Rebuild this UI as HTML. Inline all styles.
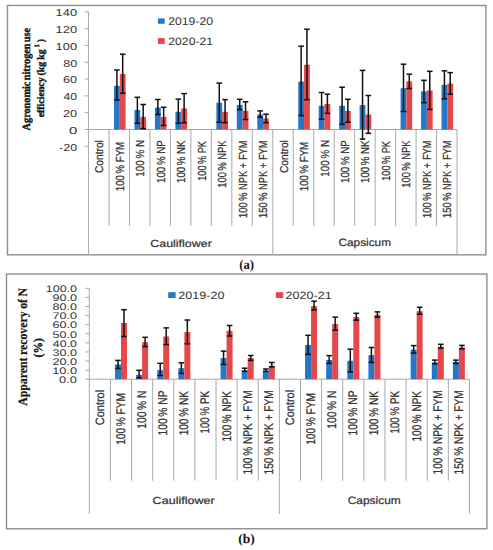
<!DOCTYPE html>
<html><head><meta charset="utf-8"><style>
html,body{margin:0;padding:0;background:#fff;width:493px;height:550px;overflow:hidden}
svg{display:block} text{text-rendering:geometricPrecision}
</style></head><body>
<svg width="493" height="550" viewBox="0 0 493 550">
<rect x="7.5" y="5.45" width="478.4" height="249.4" fill="none" stroke="#8e8e8e" stroke-width="1.4"/>
<line x1="84.55" y1="11.85" x2="88.55" y2="11.85" stroke="#a9a9a9" stroke-width="1"/>
<text transform="translate(55.62,16.10) scale(1.2876,1.0028)" font-family='"Liberation Sans", sans-serif' font-size="10" font-weight="normal" fill="#333333">140</text>
<line x1="84.55" y1="28.65" x2="88.55" y2="28.65" stroke="#a9a9a9" stroke-width="1"/>
<text transform="translate(55.62,32.90) scale(1.2876,1.0028)" font-family='"Liberation Sans", sans-serif' font-size="10" font-weight="normal" fill="#333333">120</text>
<line x1="84.55" y1="45.45" x2="88.55" y2="45.45" stroke="#a9a9a9" stroke-width="1"/>
<text transform="translate(55.62,49.70) scale(1.2876,1.0028)" font-family='"Liberation Sans", sans-serif' font-size="10" font-weight="normal" fill="#333333">100</text>
<line x1="84.55" y1="62.25" x2="88.55" y2="62.25" stroke="#a9a9a9" stroke-width="1"/>
<text transform="translate(63.16,66.50) scale(1.2527,1.0028)" font-family='"Liberation Sans", sans-serif' font-size="10" font-weight="normal" fill="#333333">80</text>
<line x1="84.55" y1="79.05" x2="88.55" y2="79.05" stroke="#a9a9a9" stroke-width="1"/>
<text transform="translate(63.06,83.30) scale(1.2617,1.0028)" font-family='"Liberation Sans", sans-serif' font-size="10" font-weight="normal" fill="#333333">60</text>
<line x1="84.55" y1="95.85" x2="88.55" y2="95.85" stroke="#a9a9a9" stroke-width="1"/>
<text transform="translate(63.42,100.10) scale(1.2282,1.0028)" font-family='"Liberation Sans", sans-serif' font-size="10" font-weight="normal" fill="#333333">40</text>
<line x1="84.55" y1="112.65" x2="88.55" y2="112.65" stroke="#a9a9a9" stroke-width="1"/>
<text transform="translate(63.07,116.90) scale(1.2611,1.0028)" font-family='"Liberation Sans", sans-serif' font-size="10" font-weight="normal" fill="#333333">20</text>
<line x1="84.55" y1="129.45" x2="88.55" y2="129.45" stroke="#a9a9a9" stroke-width="1"/>
<text transform="translate(68.92,133.70) scale(1.4853,1.0028)" font-family='"Liberation Sans", sans-serif' font-size="10" font-weight="normal" fill="#333333">0</text>
<line x1="84.55" y1="146.25" x2="88.55" y2="146.25" stroke="#a9a9a9" stroke-width="1"/>
<text transform="translate(59.05,150.50) scale(1.2483,1.0028)" font-family='"Liberation Sans", sans-serif' font-size="10" font-weight="normal" fill="#333333">-20</text>
<line x1="88.55" y1="11.85" x2="88.55" y2="254.80" stroke="#a9a9a9" stroke-width="1"/>
<line x1="88.55" y1="129.50" x2="457.01" y2="129.50" stroke="#a9a9a9" stroke-width="1"/>
<line x1="109.02" y1="129.50" x2="109.02" y2="225.80" stroke="#a9a9a9" stroke-width="1"/>
<line x1="129.49" y1="129.50" x2="129.49" y2="225.80" stroke="#a9a9a9" stroke-width="1"/>
<line x1="149.96" y1="129.50" x2="149.96" y2="225.80" stroke="#a9a9a9" stroke-width="1"/>
<line x1="170.43" y1="129.50" x2="170.43" y2="225.80" stroke="#a9a9a9" stroke-width="1"/>
<line x1="190.90" y1="129.50" x2="190.90" y2="225.80" stroke="#a9a9a9" stroke-width="1"/>
<line x1="211.37" y1="129.50" x2="211.37" y2="225.80" stroke="#a9a9a9" stroke-width="1"/>
<line x1="231.84" y1="129.50" x2="231.84" y2="225.80" stroke="#a9a9a9" stroke-width="1"/>
<line x1="252.31" y1="129.50" x2="252.31" y2="225.80" stroke="#a9a9a9" stroke-width="1"/>
<line x1="272.78" y1="129.50" x2="272.78" y2="254.80" stroke="#a9a9a9" stroke-width="1"/>
<line x1="293.25" y1="129.50" x2="293.25" y2="225.80" stroke="#a9a9a9" stroke-width="1"/>
<line x1="313.72" y1="129.50" x2="313.72" y2="225.80" stroke="#a9a9a9" stroke-width="1"/>
<line x1="334.19" y1="129.50" x2="334.19" y2="225.80" stroke="#a9a9a9" stroke-width="1"/>
<line x1="354.66" y1="129.50" x2="354.66" y2="225.80" stroke="#a9a9a9" stroke-width="1"/>
<line x1="375.13" y1="129.50" x2="375.13" y2="225.80" stroke="#a9a9a9" stroke-width="1"/>
<line x1="395.60" y1="129.50" x2="395.60" y2="225.80" stroke="#a9a9a9" stroke-width="1"/>
<line x1="416.07" y1="129.50" x2="416.07" y2="225.80" stroke="#a9a9a9" stroke-width="1"/>
<line x1="436.54" y1="129.50" x2="436.54" y2="225.80" stroke="#a9a9a9" stroke-width="1"/>
<line x1="457.01" y1="129.50" x2="457.01" y2="254.80" stroke="#a9a9a9" stroke-width="1"/>
<text transform="translate(103.37,173.12) rotate(-90) scale(1.0238,1.1302)" font-family='"Liberation Sans", sans-serif' font-size="10" font-weight="normal" fill="#333333" stroke="#333333" stroke-width="0.22">Control</text>
<text transform="translate(123.84,191.13) rotate(-90) scale(0.9627,1.1723)" font-family='"Liberation Sans", sans-serif' font-size="10" font-weight="normal" fill="#333333" stroke="#333333" stroke-width="0.22">100 % FYM</text>
<text transform="translate(144.31,176.65) rotate(-90) scale(0.9842,1.1723)" font-family='"Liberation Sans", sans-serif' font-size="10" font-weight="normal" fill="#333333" stroke="#333333" stroke-width="0.22">100 % N</text>
<text transform="translate(164.78,182.94) rotate(-90) scale(0.9713,1.1723)" font-family='"Liberation Sans", sans-serif' font-size="10" font-weight="normal" fill="#333333" stroke="#333333" stroke-width="0.22">100 % NP</text>
<text transform="translate(185.25,182.93) rotate(-90) scale(0.9620,1.1723)" font-family='"Liberation Sans", sans-serif' font-size="10" font-weight="normal" fill="#333333" stroke="#333333" stroke-width="0.22">100 % NK</text>
<text transform="translate(205.72,180.80) rotate(-90) scale(0.9156,1.1723)" font-family='"Liberation Sans", sans-serif' font-size="10" font-weight="normal" fill="#333333" stroke="#333333" stroke-width="0.22">100 % PK</text>
<text transform="translate(226.19,187.71) rotate(-90) scale(0.9315,1.1723)" font-family='"Liberation Sans", sans-serif' font-size="10" font-weight="normal" fill="#333333" stroke="#333333" stroke-width="0.22">100 % NPK</text>
<text transform="translate(246.66,217.91) rotate(-90) scale(0.9325,1.1723)" font-family='"Liberation Sans", sans-serif' font-size="10" font-weight="normal" fill="#333333" stroke="#333333" stroke-width="0.22">100 % NPK + FYM</text>
<text transform="translate(267.13,217.91) rotate(-90) scale(0.9325,1.1723)" font-family='"Liberation Sans", sans-serif' font-size="10" font-weight="normal" fill="#333333" stroke="#333333" stroke-width="0.22">150 % NPK + FYM</text>
<text transform="translate(287.60,173.12) rotate(-90) scale(1.0238,1.1302)" font-family='"Liberation Sans", sans-serif' font-size="10" font-weight="normal" fill="#333333" stroke="#333333" stroke-width="0.22">Control</text>
<text transform="translate(308.07,191.13) rotate(-90) scale(0.9627,1.1723)" font-family='"Liberation Sans", sans-serif' font-size="10" font-weight="normal" fill="#333333" stroke="#333333" stroke-width="0.22">100 % FYM</text>
<text transform="translate(328.54,176.65) rotate(-90) scale(0.9842,1.1723)" font-family='"Liberation Sans", sans-serif' font-size="10" font-weight="normal" fill="#333333" stroke="#333333" stroke-width="0.22">100 % N</text>
<text transform="translate(349.01,182.94) rotate(-90) scale(0.9713,1.1723)" font-family='"Liberation Sans", sans-serif' font-size="10" font-weight="normal" fill="#333333" stroke="#333333" stroke-width="0.22">100 % NP</text>
<text transform="translate(369.48,182.93) rotate(-90) scale(0.9620,1.1723)" font-family='"Liberation Sans", sans-serif' font-size="10" font-weight="normal" fill="#333333" stroke="#333333" stroke-width="0.22">100 % NK</text>
<text transform="translate(389.95,180.80) rotate(-90) scale(0.9156,1.1723)" font-family='"Liberation Sans", sans-serif' font-size="10" font-weight="normal" fill="#333333" stroke="#333333" stroke-width="0.22">100 % PK</text>
<text transform="translate(410.42,187.71) rotate(-90) scale(0.9315,1.1723)" font-family='"Liberation Sans", sans-serif' font-size="10" font-weight="normal" fill="#333333" stroke="#333333" stroke-width="0.22">100 % NPK</text>
<text transform="translate(430.89,217.91) rotate(-90) scale(0.9325,1.1723)" font-family='"Liberation Sans", sans-serif' font-size="10" font-weight="normal" fill="#333333" stroke="#333333" stroke-width="0.22">100 % NPK + FYM</text>
<text transform="translate(451.36,217.91) rotate(-90) scale(0.9325,1.1723)" font-family='"Liberation Sans", sans-serif' font-size="10" font-weight="normal" fill="#333333" stroke="#333333" stroke-width="0.22">150 % NPK + FYM</text>
<text transform="translate(150.27,246.50) scale(1.2441,1.0349)" font-family='"Liberation Sans", sans-serif' font-size="10" font-weight="normal" fill="#333333" stroke="#333333" stroke-width="0.22">Cauliflower</text>
<text transform="translate(338.50,246.40) scale(1.1804,1.0621)" font-family='"Liberation Sans", sans-serif' font-size="10" font-weight="normal" fill="#333333" stroke="#333333" stroke-width="0.22">Capsicum</text>
<rect x="114.00" y="85.80" width="5.80" height="43.70" fill="#2677c8"/>
<rect x="119.80" y="74.00" width="5.80" height="55.50" fill="#e5484a"/>
<rect x="134.47" y="110.00" width="5.80" height="19.50" fill="#2677c8"/>
<rect x="140.28" y="116.90" width="5.80" height="12.60" fill="#e5484a"/>
<rect x="154.94" y="107.60" width="5.80" height="21.90" fill="#2677c8"/>
<rect x="160.75" y="116.90" width="5.80" height="12.60" fill="#e5484a"/>
<rect x="175.41" y="111.80" width="5.80" height="17.70" fill="#2677c8"/>
<rect x="181.22" y="108.50" width="5.80" height="21.00" fill="#e5484a"/>
<rect x="216.36" y="102.70" width="5.80" height="26.80" fill="#2677c8"/>
<rect x="222.16" y="111.80" width="5.80" height="17.70" fill="#e5484a"/>
<rect x="236.82" y="104.90" width="5.80" height="24.60" fill="#2677c8"/>
<rect x="242.62" y="110.90" width="5.80" height="18.60" fill="#e5484a"/>
<rect x="257.30" y="114.50" width="5.80" height="15.00" fill="#2677c8"/>
<rect x="263.10" y="118.50" width="5.80" height="11.00" fill="#e5484a"/>
<rect x="298.24" y="81.60" width="5.80" height="47.90" fill="#2677c8"/>
<rect x="304.04" y="64.80" width="5.80" height="64.70" fill="#e5484a"/>
<rect x="318.70" y="105.80" width="5.80" height="23.70" fill="#2677c8"/>
<rect x="324.50" y="104.00" width="5.80" height="25.50" fill="#e5484a"/>
<rect x="339.18" y="105.80" width="5.80" height="23.70" fill="#2677c8"/>
<rect x="344.98" y="111.00" width="5.80" height="18.50" fill="#e5484a"/>
<rect x="359.64" y="105.10" width="5.80" height="24.40" fill="#2677c8"/>
<rect x="365.44" y="114.50" width="5.80" height="15.00" fill="#e5484a"/>
<rect x="400.58" y="88.20" width="5.80" height="41.30" fill="#2677c8"/>
<rect x="406.38" y="81.30" width="5.80" height="48.20" fill="#e5484a"/>
<rect x="421.06" y="91.40" width="5.80" height="38.10" fill="#2677c8"/>
<rect x="426.86" y="90.40" width="5.80" height="39.10" fill="#e5484a"/>
<rect x="441.52" y="84.90" width="5.80" height="44.60" fill="#2677c8"/>
<rect x="447.32" y="83.60" width="5.80" height="45.90" fill="#e5484a"/>
<line x1="116.90" y1="70.00" x2="116.90" y2="100.00" stroke="#111" stroke-width="1.5"/>
<line x1="114.10" y1="70.00" x2="119.70" y2="70.00" stroke="#111" stroke-width="1.5"/>
<line x1="114.10" y1="100.00" x2="119.70" y2="100.00" stroke="#111" stroke-width="1.5"/>
<line x1="122.70" y1="54.20" x2="122.70" y2="93.30" stroke="#111" stroke-width="1.5"/>
<line x1="119.91" y1="54.20" x2="125.50" y2="54.20" stroke="#111" stroke-width="1.5"/>
<line x1="119.91" y1="93.30" x2="125.50" y2="93.30" stroke="#111" stroke-width="1.5"/>
<line x1="137.38" y1="97.30" x2="137.38" y2="123.30" stroke="#111" stroke-width="1.5"/>
<line x1="134.57" y1="97.30" x2="140.18" y2="97.30" stroke="#111" stroke-width="1.5"/>
<line x1="134.57" y1="123.30" x2="140.18" y2="123.30" stroke="#111" stroke-width="1.5"/>
<line x1="143.18" y1="104.50" x2="143.18" y2="128.70" stroke="#111" stroke-width="1.5"/>
<line x1="140.38" y1="104.50" x2="145.98" y2="104.50" stroke="#111" stroke-width="1.5"/>
<line x1="140.38" y1="128.70" x2="145.98" y2="128.70" stroke="#111" stroke-width="1.5"/>
<line x1="157.84" y1="99.50" x2="157.84" y2="114.50" stroke="#111" stroke-width="1.5"/>
<line x1="155.04" y1="99.50" x2="160.65" y2="99.50" stroke="#111" stroke-width="1.5"/>
<line x1="155.04" y1="114.50" x2="160.65" y2="114.50" stroke="#111" stroke-width="1.5"/>
<line x1="163.65" y1="107.30" x2="163.65" y2="125.50" stroke="#111" stroke-width="1.5"/>
<line x1="160.84" y1="107.30" x2="166.45" y2="107.30" stroke="#111" stroke-width="1.5"/>
<line x1="160.84" y1="125.50" x2="166.45" y2="125.50" stroke="#111" stroke-width="1.5"/>
<line x1="178.31" y1="99.10" x2="178.31" y2="123.30" stroke="#111" stroke-width="1.5"/>
<line x1="175.51" y1="99.10" x2="181.12" y2="99.10" stroke="#111" stroke-width="1.5"/>
<line x1="175.51" y1="123.30" x2="181.12" y2="123.30" stroke="#111" stroke-width="1.5"/>
<line x1="184.12" y1="93.60" x2="184.12" y2="122.70" stroke="#111" stroke-width="1.5"/>
<line x1="181.31" y1="93.60" x2="186.92" y2="93.60" stroke="#111" stroke-width="1.5"/>
<line x1="181.31" y1="122.70" x2="186.92" y2="122.70" stroke="#111" stroke-width="1.5"/>
<line x1="219.26" y1="83.10" x2="219.26" y2="122.20" stroke="#111" stroke-width="1.5"/>
<line x1="216.46" y1="83.10" x2="222.06" y2="83.10" stroke="#111" stroke-width="1.5"/>
<line x1="216.46" y1="122.20" x2="222.06" y2="122.20" stroke="#111" stroke-width="1.5"/>
<line x1="225.06" y1="99.60" x2="225.06" y2="122.70" stroke="#111" stroke-width="1.5"/>
<line x1="222.26" y1="99.60" x2="227.86" y2="99.60" stroke="#111" stroke-width="1.5"/>
<line x1="222.26" y1="122.70" x2="227.86" y2="122.70" stroke="#111" stroke-width="1.5"/>
<line x1="239.72" y1="99.30" x2="239.72" y2="109.60" stroke="#111" stroke-width="1.5"/>
<line x1="236.92" y1="99.30" x2="242.53" y2="99.30" stroke="#111" stroke-width="1.5"/>
<line x1="236.92" y1="109.60" x2="242.53" y2="109.60" stroke="#111" stroke-width="1.5"/>
<line x1="245.53" y1="101.80" x2="245.53" y2="119.50" stroke="#111" stroke-width="1.5"/>
<line x1="242.72" y1="101.80" x2="248.33" y2="101.80" stroke="#111" stroke-width="1.5"/>
<line x1="242.72" y1="119.50" x2="248.33" y2="119.50" stroke="#111" stroke-width="1.5"/>
<line x1="260.20" y1="110.90" x2="260.20" y2="117.30" stroke="#111" stroke-width="1.5"/>
<line x1="257.40" y1="110.90" x2="263.00" y2="110.90" stroke="#111" stroke-width="1.5"/>
<line x1="257.40" y1="117.30" x2="263.00" y2="117.30" stroke="#111" stroke-width="1.5"/>
<line x1="266.00" y1="114.20" x2="266.00" y2="122.70" stroke="#111" stroke-width="1.5"/>
<line x1="263.19" y1="114.20" x2="268.80" y2="114.20" stroke="#111" stroke-width="1.5"/>
<line x1="263.19" y1="122.70" x2="268.80" y2="122.70" stroke="#111" stroke-width="1.5"/>
<line x1="301.14" y1="46.20" x2="301.14" y2="115.60" stroke="#111" stroke-width="1.5"/>
<line x1="298.34" y1="46.20" x2="303.94" y2="46.20" stroke="#111" stroke-width="1.5"/>
<line x1="298.34" y1="115.60" x2="303.94" y2="115.60" stroke="#111" stroke-width="1.5"/>
<line x1="306.94" y1="29.20" x2="306.94" y2="99.70" stroke="#111" stroke-width="1.5"/>
<line x1="304.13" y1="29.20" x2="309.74" y2="29.20" stroke="#111" stroke-width="1.5"/>
<line x1="304.13" y1="99.70" x2="309.74" y2="99.70" stroke="#111" stroke-width="1.5"/>
<line x1="321.61" y1="92.50" x2="321.61" y2="119.30" stroke="#111" stroke-width="1.5"/>
<line x1="318.81" y1="92.50" x2="324.41" y2="92.50" stroke="#111" stroke-width="1.5"/>
<line x1="318.81" y1="119.30" x2="324.41" y2="119.30" stroke="#111" stroke-width="1.5"/>
<line x1="327.40" y1="94.20" x2="327.40" y2="113.40" stroke="#111" stroke-width="1.5"/>
<line x1="324.60" y1="94.20" x2="330.20" y2="94.20" stroke="#111" stroke-width="1.5"/>
<line x1="324.60" y1="113.40" x2="330.20" y2="113.40" stroke="#111" stroke-width="1.5"/>
<line x1="342.08" y1="87.20" x2="342.08" y2="124.40" stroke="#111" stroke-width="1.5"/>
<line x1="339.28" y1="87.20" x2="344.88" y2="87.20" stroke="#111" stroke-width="1.5"/>
<line x1="339.28" y1="124.40" x2="344.88" y2="124.40" stroke="#111" stroke-width="1.5"/>
<line x1="347.88" y1="99.30" x2="347.88" y2="122.20" stroke="#111" stroke-width="1.5"/>
<line x1="345.07" y1="99.30" x2="350.68" y2="99.30" stroke="#111" stroke-width="1.5"/>
<line x1="345.07" y1="122.20" x2="350.68" y2="122.20" stroke="#111" stroke-width="1.5"/>
<line x1="362.55" y1="70.40" x2="362.55" y2="139.10" stroke="#111" stroke-width="1.5"/>
<line x1="359.75" y1="70.40" x2="365.35" y2="70.40" stroke="#111" stroke-width="1.5"/>
<line x1="359.75" y1="139.10" x2="365.35" y2="139.10" stroke="#111" stroke-width="1.5"/>
<line x1="368.34" y1="95.50" x2="368.34" y2="133.30" stroke="#111" stroke-width="1.5"/>
<line x1="365.54" y1="95.50" x2="371.14" y2="95.50" stroke="#111" stroke-width="1.5"/>
<line x1="365.54" y1="133.30" x2="371.14" y2="133.30" stroke="#111" stroke-width="1.5"/>
<line x1="403.49" y1="64.20" x2="403.49" y2="111.50" stroke="#111" stroke-width="1.5"/>
<line x1="400.69" y1="64.20" x2="406.29" y2="64.20" stroke="#111" stroke-width="1.5"/>
<line x1="400.69" y1="111.50" x2="406.29" y2="111.50" stroke="#111" stroke-width="1.5"/>
<line x1="409.28" y1="74.20" x2="409.28" y2="88.50" stroke="#111" stroke-width="1.5"/>
<line x1="406.48" y1="74.20" x2="412.08" y2="74.20" stroke="#111" stroke-width="1.5"/>
<line x1="406.48" y1="88.50" x2="412.08" y2="88.50" stroke="#111" stroke-width="1.5"/>
<line x1="423.96" y1="80.30" x2="423.96" y2="102.70" stroke="#111" stroke-width="1.5"/>
<line x1="421.16" y1="80.30" x2="426.76" y2="80.30" stroke="#111" stroke-width="1.5"/>
<line x1="421.16" y1="102.70" x2="426.76" y2="102.70" stroke="#111" stroke-width="1.5"/>
<line x1="429.75" y1="71.30" x2="429.75" y2="109.40" stroke="#111" stroke-width="1.5"/>
<line x1="426.95" y1="71.30" x2="432.56" y2="71.30" stroke="#111" stroke-width="1.5"/>
<line x1="426.95" y1="109.40" x2="432.56" y2="109.40" stroke="#111" stroke-width="1.5"/>
<line x1="444.43" y1="70.80" x2="444.43" y2="98.80" stroke="#111" stroke-width="1.5"/>
<line x1="441.62" y1="70.80" x2="447.23" y2="70.80" stroke="#111" stroke-width="1.5"/>
<line x1="441.62" y1="98.80" x2="447.23" y2="98.80" stroke="#111" stroke-width="1.5"/>
<line x1="450.22" y1="72.60" x2="450.22" y2="94.20" stroke="#111" stroke-width="1.5"/>
<line x1="447.42" y1="72.60" x2="453.02" y2="72.60" stroke="#111" stroke-width="1.5"/>
<line x1="447.42" y1="94.20" x2="453.02" y2="94.20" stroke="#111" stroke-width="1.5"/>
<rect x="6.5" y="274.05" width="480.4" height="254.7" fill="none" stroke="#8e8e8e" stroke-width="1.4"/>
<line x1="85.30" y1="288.30" x2="89.30" y2="288.30" stroke="#a9a9a9" stroke-width="1"/>
<text transform="translate(45.75,292.11) scale(1.2483,0.9604)" font-family='"Liberation Sans", sans-serif' font-size="10" font-weight="normal" fill="#333333">100.0</text>
<line x1="85.30" y1="297.39" x2="89.30" y2="297.39" stroke="#a9a9a9" stroke-width="1"/>
<text transform="translate(52.51,301.20) scale(1.2578,0.9604)" font-family='"Liberation Sans", sans-serif' font-size="10" font-weight="normal" fill="#333333">90.0</text>
<line x1="85.30" y1="306.48" x2="89.30" y2="306.48" stroke="#a9a9a9" stroke-width="1"/>
<text transform="translate(52.55,310.29) scale(1.2555,0.9604)" font-family='"Liberation Sans", sans-serif' font-size="10" font-weight="normal" fill="#333333">80.0</text>
<line x1="85.30" y1="315.57" x2="89.30" y2="315.57" stroke="#a9a9a9" stroke-width="1"/>
<text transform="translate(52.45,319.38) scale(1.2608,0.9604)" font-family='"Liberation Sans", sans-serif' font-size="10" font-weight="normal" fill="#333333">70.0</text>
<line x1="85.30" y1="324.66" x2="89.30" y2="324.66" stroke="#a9a9a9" stroke-width="1"/>
<text transform="translate(52.46,328.47) scale(1.2605,0.9604)" font-family='"Liberation Sans", sans-serif' font-size="10" font-weight="normal" fill="#333333">60.0</text>
<line x1="85.30" y1="333.75" x2="89.30" y2="333.75" stroke="#a9a9a9" stroke-width="1"/>
<text transform="translate(52.60,337.56) scale(1.2532,0.9604)" font-family='"Liberation Sans", sans-serif' font-size="10" font-weight="normal" fill="#333333">50.0</text>
<line x1="85.30" y1="342.84" x2="89.30" y2="342.84" stroke="#a9a9a9" stroke-width="1"/>
<text transform="translate(52.82,346.65) scale(1.2419,0.9604)" font-family='"Liberation Sans", sans-serif' font-size="10" font-weight="normal" fill="#333333">40.0</text>
<line x1="85.30" y1="351.93" x2="89.30" y2="351.93" stroke="#a9a9a9" stroke-width="1"/>
<text transform="translate(52.62,355.74) scale(1.2519,0.9604)" font-family='"Liberation Sans", sans-serif' font-size="10" font-weight="normal" fill="#333333">30.0</text>
<line x1="85.30" y1="361.02" x2="89.30" y2="361.02" stroke="#a9a9a9" stroke-width="1"/>
<text transform="translate(52.47,364.83) scale(1.2601,0.9604)" font-family='"Liberation Sans", sans-serif' font-size="10" font-weight="normal" fill="#333333">20.0</text>
<line x1="85.30" y1="370.11" x2="89.30" y2="370.11" stroke="#a9a9a9" stroke-width="1"/>
<text transform="translate(52.13,373.92) scale(1.2780,0.9604)" font-family='"Liberation Sans", sans-serif' font-size="10" font-weight="normal" fill="#333333">10.0</text>
<line x1="85.30" y1="379.20" x2="89.30" y2="379.20" stroke="#a9a9a9" stroke-width="1"/>
<text transform="translate(59.10,383.01) scale(1.2881,0.9604)" font-family='"Liberation Sans", sans-serif' font-size="10" font-weight="normal" fill="#333333">0.0</text>
<line x1="89.30" y1="288.30" x2="89.30" y2="513.70" stroke="#a9a9a9" stroke-width="1"/>
<line x1="89.30" y1="379.20" x2="469.46" y2="379.20" stroke="#a9a9a9" stroke-width="1"/>
<line x1="110.42" y1="379.20" x2="110.42" y2="480.70" stroke="#a9a9a9" stroke-width="1"/>
<line x1="131.54" y1="379.20" x2="131.54" y2="480.70" stroke="#a9a9a9" stroke-width="1"/>
<line x1="152.66" y1="379.20" x2="152.66" y2="480.70" stroke="#a9a9a9" stroke-width="1"/>
<line x1="173.78" y1="379.20" x2="173.78" y2="480.70" stroke="#a9a9a9" stroke-width="1"/>
<line x1="194.90" y1="379.20" x2="194.90" y2="480.70" stroke="#a9a9a9" stroke-width="1"/>
<line x1="216.02" y1="379.20" x2="216.02" y2="480.70" stroke="#a9a9a9" stroke-width="1"/>
<line x1="237.14" y1="379.20" x2="237.14" y2="480.70" stroke="#a9a9a9" stroke-width="1"/>
<line x1="258.26" y1="379.20" x2="258.26" y2="480.70" stroke="#a9a9a9" stroke-width="1"/>
<line x1="279.38" y1="379.20" x2="279.38" y2="513.70" stroke="#a9a9a9" stroke-width="1"/>
<line x1="300.50" y1="379.20" x2="300.50" y2="480.70" stroke="#a9a9a9" stroke-width="1"/>
<line x1="321.62" y1="379.20" x2="321.62" y2="480.70" stroke="#a9a9a9" stroke-width="1"/>
<line x1="342.74" y1="379.20" x2="342.74" y2="480.70" stroke="#a9a9a9" stroke-width="1"/>
<line x1="363.86" y1="379.20" x2="363.86" y2="480.70" stroke="#a9a9a9" stroke-width="1"/>
<line x1="384.98" y1="379.20" x2="384.98" y2="480.70" stroke="#a9a9a9" stroke-width="1"/>
<line x1="406.10" y1="379.20" x2="406.10" y2="480.70" stroke="#a9a9a9" stroke-width="1"/>
<line x1="427.22" y1="379.20" x2="427.22" y2="480.70" stroke="#a9a9a9" stroke-width="1"/>
<line x1="448.34" y1="379.20" x2="448.34" y2="480.70" stroke="#a9a9a9" stroke-width="1"/>
<line x1="469.46" y1="379.20" x2="469.46" y2="513.70" stroke="#a9a9a9" stroke-width="1"/>
<text transform="translate(103.79,425.16) rotate(-90) scale(1.0947,1.2119)" font-family='"Liberation Sans", sans-serif' font-size="10" font-weight="normal" fill="#333333" stroke="#333333" stroke-width="0.22">Control</text>
<text transform="translate(124.91,444.87) rotate(-90) scale(1.0152,1.2570)" font-family='"Liberation Sans", sans-serif' font-size="10" font-weight="normal" fill="#333333" stroke="#333333" stroke-width="0.22">100 % FYM</text>
<text transform="translate(146.03,428.68) rotate(-90) scale(1.0234,1.2570)" font-family='"Liberation Sans", sans-serif' font-size="10" font-weight="normal" fill="#333333" stroke="#333333" stroke-width="0.22">100 % N</text>
<text transform="translate(167.15,435.38) rotate(-90) scale(1.0206,1.2570)" font-family='"Liberation Sans", sans-serif' font-size="10" font-weight="normal" fill="#333333" stroke="#333333" stroke-width="0.22">100 % NP</text>
<text transform="translate(188.27,435.37) rotate(-90) scale(1.0108,1.2570)" font-family='"Liberation Sans", sans-serif' font-size="10" font-weight="normal" fill="#333333" stroke="#333333" stroke-width="0.22">100 % NK</text>
<text transform="translate(209.39,433.55) rotate(-90) scale(0.9815,1.2570)" font-family='"Liberation Sans", sans-serif' font-size="10" font-weight="normal" fill="#333333" stroke="#333333" stroke-width="0.22">100 % PK</text>
<text transform="translate(230.51,441.46) rotate(-90) scale(0.9978,1.2570)" font-family='"Liberation Sans", sans-serif' font-size="10" font-weight="normal" fill="#333333" stroke="#333333" stroke-width="0.22">100 % NPK</text>
<text transform="translate(251.63,474.47) rotate(-90) scale(1.0134,1.2570)" font-family='"Liberation Sans", sans-serif' font-size="10" font-weight="normal" fill="#333333" stroke="#333333" stroke-width="0.22">100 % NPK + FYM</text>
<text transform="translate(272.75,474.47) rotate(-90) scale(1.0134,1.2570)" font-family='"Liberation Sans", sans-serif' font-size="10" font-weight="normal" fill="#333333" stroke="#333333" stroke-width="0.22">150 % NPK + FYM</text>
<text transform="translate(293.87,425.16) rotate(-90) scale(1.0947,1.2119)" font-family='"Liberation Sans", sans-serif' font-size="10" font-weight="normal" fill="#333333" stroke="#333333" stroke-width="0.22">Control</text>
<text transform="translate(314.99,444.87) rotate(-90) scale(1.0152,1.2570)" font-family='"Liberation Sans", sans-serif' font-size="10" font-weight="normal" fill="#333333" stroke="#333333" stroke-width="0.22">100 % FYM</text>
<text transform="translate(336.11,428.68) rotate(-90) scale(1.0234,1.2570)" font-family='"Liberation Sans", sans-serif' font-size="10" font-weight="normal" fill="#333333" stroke="#333333" stroke-width="0.22">100 % N</text>
<text transform="translate(357.23,435.38) rotate(-90) scale(1.0206,1.2570)" font-family='"Liberation Sans", sans-serif' font-size="10" font-weight="normal" fill="#333333" stroke="#333333" stroke-width="0.22">100 % NP</text>
<text transform="translate(378.35,435.37) rotate(-90) scale(1.0108,1.2570)" font-family='"Liberation Sans", sans-serif' font-size="10" font-weight="normal" fill="#333333" stroke="#333333" stroke-width="0.22">100 % NK</text>
<text transform="translate(399.47,433.55) rotate(-90) scale(0.9815,1.2570)" font-family='"Liberation Sans", sans-serif' font-size="10" font-weight="normal" fill="#333333" stroke="#333333" stroke-width="0.22">100 % PK</text>
<text transform="translate(420.59,441.46) rotate(-90) scale(0.9978,1.2570)" font-family='"Liberation Sans", sans-serif' font-size="10" font-weight="normal" fill="#333333" stroke="#333333" stroke-width="0.22">100 % NPK</text>
<text transform="translate(441.71,474.47) rotate(-90) scale(1.0134,1.2570)" font-family='"Liberation Sans", sans-serif' font-size="10" font-weight="normal" fill="#333333" stroke="#333333" stroke-width="0.22">100 % NPK + FYM</text>
<text transform="translate(462.83,474.47) rotate(-90) scale(1.0134,1.2570)" font-family='"Liberation Sans", sans-serif' font-size="10" font-weight="normal" fill="#333333" stroke="#333333" stroke-width="0.22">150 % NPK + FYM</text>
<text transform="translate(152.56,503.50) scale(1.2585,1.0349)" font-family='"Liberation Sans", sans-serif' font-size="10" font-weight="normal" fill="#333333" stroke="#333333" stroke-width="0.22">Cauliflower</text>
<text transform="translate(347.69,503.97) scale(1.1942,1.0728)" font-family='"Liberation Sans", sans-serif' font-size="10" font-weight="normal" fill="#333333" stroke="#333333" stroke-width="0.22">Capsicum</text>
<rect x="114.98" y="364.50" width="6.00" height="14.70" fill="#2677c8"/>
<rect x="120.98" y="323.00" width="6.00" height="56.20" fill="#e5484a"/>
<rect x="136.10" y="375.00" width="6.00" height="4.20" fill="#2677c8"/>
<rect x="142.10" y="342.20" width="6.00" height="37.00" fill="#e5484a"/>
<rect x="157.22" y="370.10" width="6.00" height="9.10" fill="#2677c8"/>
<rect x="163.22" y="336.50" width="6.00" height="42.70" fill="#e5484a"/>
<rect x="178.34" y="368.20" width="6.00" height="11.00" fill="#2677c8"/>
<rect x="184.34" y="332.00" width="6.00" height="47.20" fill="#e5484a"/>
<rect x="220.58" y="358.00" width="6.00" height="21.20" fill="#2677c8"/>
<rect x="226.58" y="330.80" width="6.00" height="48.40" fill="#e5484a"/>
<rect x="241.70" y="370.10" width="6.00" height="9.10" fill="#2677c8"/>
<rect x="247.70" y="358.00" width="6.00" height="21.20" fill="#e5484a"/>
<rect x="262.82" y="370.90" width="6.00" height="8.30" fill="#2677c8"/>
<rect x="268.82" y="365.70" width="6.00" height="13.50" fill="#e5484a"/>
<rect x="305.06" y="344.90" width="6.00" height="34.30" fill="#2677c8"/>
<rect x="311.06" y="306.10" width="6.00" height="73.10" fill="#e5484a"/>
<rect x="326.18" y="360.00" width="6.00" height="19.20" fill="#2677c8"/>
<rect x="332.18" y="324.00" width="6.00" height="55.20" fill="#e5484a"/>
<rect x="347.30" y="360.80" width="6.00" height="18.40" fill="#2677c8"/>
<rect x="353.30" y="317.10" width="6.00" height="62.10" fill="#e5484a"/>
<rect x="368.42" y="355.10" width="6.00" height="24.10" fill="#2677c8"/>
<rect x="374.42" y="314.70" width="6.00" height="64.50" fill="#e5484a"/>
<rect x="410.66" y="349.60" width="6.00" height="29.60" fill="#2677c8"/>
<rect x="416.66" y="311.20" width="6.00" height="68.00" fill="#e5484a"/>
<rect x="431.78" y="362.40" width="6.00" height="16.80" fill="#2677c8"/>
<rect x="437.78" y="346.60" width="6.00" height="32.60" fill="#e5484a"/>
<rect x="452.90" y="361.90" width="6.00" height="17.30" fill="#2677c8"/>
<rect x="458.90" y="347.50" width="6.00" height="31.70" fill="#e5484a"/>
<line x1="117.98" y1="360.40" x2="117.98" y2="368.50" stroke="#111" stroke-width="1.5"/>
<line x1="115.18" y1="360.40" x2="120.78" y2="360.40" stroke="#111" stroke-width="1.5"/>
<line x1="115.18" y1="368.50" x2="120.78" y2="368.50" stroke="#111" stroke-width="1.5"/>
<line x1="123.98" y1="309.70" x2="123.98" y2="336.50" stroke="#111" stroke-width="1.5"/>
<line x1="121.18" y1="309.70" x2="126.78" y2="309.70" stroke="#111" stroke-width="1.5"/>
<line x1="121.18" y1="336.50" x2="126.78" y2="336.50" stroke="#111" stroke-width="1.5"/>
<line x1="139.10" y1="370.30" x2="139.10" y2="377.90" stroke="#111" stroke-width="1.5"/>
<line x1="136.30" y1="370.30" x2="141.90" y2="370.30" stroke="#111" stroke-width="1.5"/>
<line x1="136.30" y1="377.90" x2="141.90" y2="377.90" stroke="#111" stroke-width="1.5"/>
<line x1="145.10" y1="337.30" x2="145.10" y2="346.60" stroke="#111" stroke-width="1.5"/>
<line x1="142.30" y1="337.30" x2="147.90" y2="337.30" stroke="#111" stroke-width="1.5"/>
<line x1="142.30" y1="346.60" x2="147.90" y2="346.60" stroke="#111" stroke-width="1.5"/>
<line x1="160.22" y1="363.30" x2="160.22" y2="375.50" stroke="#111" stroke-width="1.5"/>
<line x1="157.42" y1="363.30" x2="163.02" y2="363.30" stroke="#111" stroke-width="1.5"/>
<line x1="157.42" y1="375.50" x2="163.02" y2="375.50" stroke="#111" stroke-width="1.5"/>
<line x1="166.22" y1="327.90" x2="166.22" y2="344.60" stroke="#111" stroke-width="1.5"/>
<line x1="163.42" y1="327.90" x2="169.02" y2="327.90" stroke="#111" stroke-width="1.5"/>
<line x1="163.42" y1="344.60" x2="169.02" y2="344.60" stroke="#111" stroke-width="1.5"/>
<line x1="181.34" y1="362.80" x2="181.34" y2="373.40" stroke="#111" stroke-width="1.5"/>
<line x1="178.54" y1="362.80" x2="184.14" y2="362.80" stroke="#111" stroke-width="1.5"/>
<line x1="178.54" y1="373.40" x2="184.14" y2="373.40" stroke="#111" stroke-width="1.5"/>
<line x1="187.34" y1="320.00" x2="187.34" y2="343.80" stroke="#111" stroke-width="1.5"/>
<line x1="184.54" y1="320.00" x2="190.14" y2="320.00" stroke="#111" stroke-width="1.5"/>
<line x1="184.54" y1="343.80" x2="190.14" y2="343.80" stroke="#111" stroke-width="1.5"/>
<line x1="223.58" y1="351.10" x2="223.58" y2="364.40" stroke="#111" stroke-width="1.5"/>
<line x1="220.78" y1="351.10" x2="226.38" y2="351.10" stroke="#111" stroke-width="1.5"/>
<line x1="220.78" y1="364.40" x2="226.38" y2="364.40" stroke="#111" stroke-width="1.5"/>
<line x1="229.58" y1="325.50" x2="229.58" y2="336.00" stroke="#111" stroke-width="1.5"/>
<line x1="226.78" y1="325.50" x2="232.38" y2="325.50" stroke="#111" stroke-width="1.5"/>
<line x1="226.78" y1="336.00" x2="232.38" y2="336.00" stroke="#111" stroke-width="1.5"/>
<line x1="244.70" y1="368.20" x2="244.70" y2="371.40" stroke="#111" stroke-width="1.5"/>
<line x1="241.90" y1="368.20" x2="247.50" y2="368.20" stroke="#111" stroke-width="1.5"/>
<line x1="241.90" y1="371.40" x2="247.50" y2="371.40" stroke="#111" stroke-width="1.5"/>
<line x1="250.70" y1="355.50" x2="250.70" y2="360.40" stroke="#111" stroke-width="1.5"/>
<line x1="247.90" y1="355.50" x2="253.50" y2="355.50" stroke="#111" stroke-width="1.5"/>
<line x1="247.90" y1="360.40" x2="253.50" y2="360.40" stroke="#111" stroke-width="1.5"/>
<line x1="265.82" y1="369.00" x2="265.82" y2="371.40" stroke="#111" stroke-width="1.5"/>
<line x1="263.02" y1="369.00" x2="268.62" y2="369.00" stroke="#111" stroke-width="1.5"/>
<line x1="263.02" y1="371.40" x2="268.62" y2="371.40" stroke="#111" stroke-width="1.5"/>
<line x1="271.82" y1="362.50" x2="271.82" y2="366.90" stroke="#111" stroke-width="1.5"/>
<line x1="269.02" y1="362.50" x2="274.62" y2="362.50" stroke="#111" stroke-width="1.5"/>
<line x1="269.02" y1="366.90" x2="274.62" y2="366.90" stroke="#111" stroke-width="1.5"/>
<line x1="308.06" y1="335.30" x2="308.06" y2="354.40" stroke="#111" stroke-width="1.5"/>
<line x1="305.26" y1="335.30" x2="310.86" y2="335.30" stroke="#111" stroke-width="1.5"/>
<line x1="305.26" y1="354.40" x2="310.86" y2="354.40" stroke="#111" stroke-width="1.5"/>
<line x1="314.06" y1="301.20" x2="314.06" y2="309.90" stroke="#111" stroke-width="1.5"/>
<line x1="311.26" y1="301.20" x2="316.86" y2="301.20" stroke="#111" stroke-width="1.5"/>
<line x1="311.26" y1="309.90" x2="316.86" y2="309.90" stroke="#111" stroke-width="1.5"/>
<line x1="329.18" y1="355.60" x2="329.18" y2="363.40" stroke="#111" stroke-width="1.5"/>
<line x1="326.38" y1="355.60" x2="331.98" y2="355.60" stroke="#111" stroke-width="1.5"/>
<line x1="326.38" y1="363.40" x2="331.98" y2="363.40" stroke="#111" stroke-width="1.5"/>
<line x1="335.18" y1="317.10" x2="335.18" y2="330.20" stroke="#111" stroke-width="1.5"/>
<line x1="332.38" y1="317.10" x2="337.98" y2="317.10" stroke="#111" stroke-width="1.5"/>
<line x1="332.38" y1="330.20" x2="337.98" y2="330.20" stroke="#111" stroke-width="1.5"/>
<line x1="350.30" y1="349.20" x2="350.30" y2="372.00" stroke="#111" stroke-width="1.5"/>
<line x1="347.50" y1="349.20" x2="353.10" y2="349.20" stroke="#111" stroke-width="1.5"/>
<line x1="347.50" y1="372.00" x2="353.10" y2="372.00" stroke="#111" stroke-width="1.5"/>
<line x1="356.30" y1="313.30" x2="356.30" y2="320.20" stroke="#111" stroke-width="1.5"/>
<line x1="353.50" y1="313.30" x2="359.10" y2="313.30" stroke="#111" stroke-width="1.5"/>
<line x1="353.50" y1="320.20" x2="359.10" y2="320.20" stroke="#111" stroke-width="1.5"/>
<line x1="371.42" y1="347.50" x2="371.42" y2="362.50" stroke="#111" stroke-width="1.5"/>
<line x1="368.62" y1="347.50" x2="374.22" y2="347.50" stroke="#111" stroke-width="1.5"/>
<line x1="368.62" y1="362.50" x2="374.22" y2="362.50" stroke="#111" stroke-width="1.5"/>
<line x1="377.42" y1="311.90" x2="377.42" y2="317.10" stroke="#111" stroke-width="1.5"/>
<line x1="374.62" y1="311.90" x2="380.22" y2="311.90" stroke="#111" stroke-width="1.5"/>
<line x1="374.62" y1="317.10" x2="380.22" y2="317.10" stroke="#111" stroke-width="1.5"/>
<line x1="413.66" y1="345.60" x2="413.66" y2="353.00" stroke="#111" stroke-width="1.5"/>
<line x1="410.86" y1="345.60" x2="416.46" y2="345.60" stroke="#111" stroke-width="1.5"/>
<line x1="410.86" y1="353.00" x2="416.46" y2="353.00" stroke="#111" stroke-width="1.5"/>
<line x1="419.66" y1="307.30" x2="419.66" y2="314.20" stroke="#111" stroke-width="1.5"/>
<line x1="416.86" y1="307.30" x2="422.46" y2="307.30" stroke="#111" stroke-width="1.5"/>
<line x1="416.86" y1="314.20" x2="422.46" y2="314.20" stroke="#111" stroke-width="1.5"/>
<line x1="434.78" y1="360.10" x2="434.78" y2="363.80" stroke="#111" stroke-width="1.5"/>
<line x1="431.98" y1="360.10" x2="437.58" y2="360.10" stroke="#111" stroke-width="1.5"/>
<line x1="431.98" y1="363.80" x2="437.58" y2="363.80" stroke="#111" stroke-width="1.5"/>
<line x1="440.78" y1="344.30" x2="440.78" y2="348.20" stroke="#111" stroke-width="1.5"/>
<line x1="437.98" y1="344.30" x2="443.58" y2="344.30" stroke="#111" stroke-width="1.5"/>
<line x1="437.98" y1="348.20" x2="443.58" y2="348.20" stroke="#111" stroke-width="1.5"/>
<line x1="455.90" y1="360.10" x2="455.90" y2="363.50" stroke="#111" stroke-width="1.5"/>
<line x1="453.10" y1="360.10" x2="458.70" y2="360.10" stroke="#111" stroke-width="1.5"/>
<line x1="453.10" y1="363.50" x2="458.70" y2="363.50" stroke="#111" stroke-width="1.5"/>
<line x1="461.90" y1="345.40" x2="461.90" y2="348.90" stroke="#111" stroke-width="1.5"/>
<line x1="459.10" y1="345.40" x2="464.70" y2="345.40" stroke="#111" stroke-width="1.5"/>
<line x1="459.10" y1="348.90" x2="464.70" y2="348.90" stroke="#111" stroke-width="1.5"/>
<rect x="157.90" y="18.40" width="6.80" height="5.40" fill="#2677c8"/>
<text transform="translate(168.29,24.79) scale(1.2177,1.1017)" font-family='"Liberation Sans", sans-serif' font-size="10" font-weight="normal" fill="#333333">2019-20</text>
<rect x="157.90" y="38.10" width="6.80" height="5.80" fill="#e5484a"/>
<text transform="translate(168.29,44.50) scale(1.2210,1.0734)" font-family='"Liberation Sans", sans-serif' font-size="10" font-weight="normal" fill="#333333">2020-21</text>
<rect x="168.20" y="292.20" width="7.40" height="5.80" fill="#2677c8"/>
<text transform="translate(178.27,298.80) scale(1.2568,1.0593)" font-family='"Liberation Sans", sans-serif' font-size="10" font-weight="normal" fill="#333333">2019-20</text>
<rect x="275.80" y="292.20" width="7.40" height="5.80" fill="#e5484a"/>
<text transform="translate(285.57,298.80) scale(1.2546,1.0593)" font-family='"Liberation Sans", sans-serif' font-size="10" font-weight="normal" fill="#333333">2020-21</text>
<text transform="translate(30.34,130.40) rotate(-90) scale(1.0249,1.1153)" font-family='"Liberation Serif", serif' font-size="10" font-weight="bold" fill="#141414" stroke="#141414" stroke-width="0.35" word-spacing="-1.20">Agronomic nitrogen use</text>
<text transform="translate(43.68,117.34) rotate(-90) scale(0.9876,1.0056)" font-family='"Liberation Serif", serif' font-size="10" font-weight="bold" fill="#141414" stroke="#141414" stroke-width="0.35" word-spacing="-0.60">efficiency (kg kg<tspan font-size="7" dx="2.0" dy="-4.6">1</tspan><tspan dx="1.7" dy="4.6">)</tspan></text>
<text transform="translate(26.81,405.71) rotate(-90) scale(1.1763,1.2936)" font-family='"Liberation Serif", serif' font-size="10" font-weight="bold" fill="#141414" stroke="#141414" stroke-width="0.15" word-spacing="-0.30">Apparent recovery of N</text>
<text transform="translate(41.64,357.41) rotate(-90) scale(1.1533,1.2021)" font-family='"Liberation Serif", serif' font-size="10" font-weight="bold" fill="#141414" stroke="#141414" stroke-width="0.3">(%)</text>
<text transform="translate(239.24,269.14) scale(1.2707,1.3455)" font-family='"Liberation Serif", serif' font-size="10" font-weight="bold" fill="#141414">(a)</text>
<text transform="translate(238.30,543.34) scale(1.3577,1.3455)" font-family='"Liberation Serif", serif' font-size="10" font-weight="bold" fill="#141414">(b)</text>
</svg>
</body></html>
